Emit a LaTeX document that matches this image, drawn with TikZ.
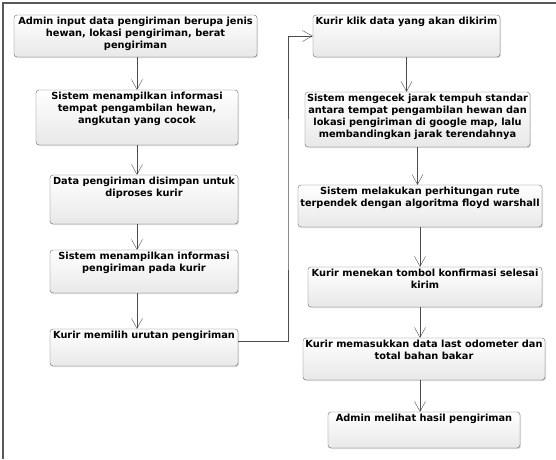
\documentclass[tikz,border=0pt]{standalone}
\usepackage{fontspec}
\setmainfont{DejaVu Sans}
\usetikzlibrary{arrows.meta,shadows}
\newcommand{\acttext}[3]{\parbox[c][\dimexpr#2-5pt][t]{\dimexpr#1-4pt}{\centering #3}}
\begin{document}
\begin{tikzpicture}[x=1pt,y=-1pt]
  \tikzstyle{act}=[draw=black!60, rounded corners=3pt, inner xsep=2pt, inner ysep=2.5pt, top color=white, bottom color=black!9,
    drop shadow={opacity=0.25, shadow xshift=1pt, shadow yshift=-1pt},
    font=\fontsize{9.8}{11.7}\selectfont\bfseries]
  \tikzstyle{flow}=[draw=black!70, -{Straight Barb[length=10pt, width=11pt]}]

  \useasboundingbox (0,0) rectangle (556,459);
  \draw[black!65, line width=2pt] (3,459) -- (3,3) -- (556,3);

  \node[act] (l1) at (135.5, 36)  {\acttext{243pt}{42pt}{Admin input data pengiriman berupa jenis\\hewan, lokasi pengiriman, berat\\pengiriman}};
  \node[act] (l2) at (137, 117.5) {\acttext{202pt}{55pt}{Sistem menampilkan informasi\\tempat pengambilan hewan,\\angkutan yang cocok}};
  \node[act] (l3) at (144, 199.5) {\acttext{188pt}{49pt}{Data pengiriman disimpan untuk\\diproses kurir}};
  \node[act] (l4) at (144, 271.5) {\acttext{188pt}{43pt}{Sistem menampilkan informasi\\pengiriman pada kurir}};
  \node[act] (l5) at (144, 347.5) {\acttext{188pt}{37pt}{Kurir memilih urutan pengiriman}};

  \node[act] (r1) at (406.5, 36)  {\acttext{187pt}{42pt}{Kurir klik data yang akan dikirim}};
  \node[act] (r2) at (417.5, 119.5) {\acttext{225pt}{55pt}{Sistem mengecek jarak tempuh standar\\antara tempat pengambilan hewan dan\\lokasi pengiriman di google map, lalu\\membandingkan jarak terendahnya}};
  \node[act] (r3) at (420, 206)   {\acttext{244pt}{42pt}{Sistem melakukan perhitungan rute\\terpendek dengan algoritma floyd warshall}};
  \node[act] (r4) at (425, 287)   {\acttext{234pt}{40pt}{Kurir menekan tombol konfirmasi selesai\\kirim}};
  \node[act] (r5) at (424, 359)   {\acttext{242pt}{42pt}{Kurir memasukkan data last odometer dan\\total bahan bakar}};
  \node[act] (r6) at (424, 430)   {\acttext{192pt}{36pt}{Admin melihat hasil pengiriman}};

  \draw[flow] (l2.north |- l1.south) -- (l2.north);
  \draw[flow] (l2.south) -- (l2.south |- l3.north);
  \draw[flow] (l2.south |- l3.south) -- (l2.south |- l4.north);
  \draw[flow] (l2.south |- l4.south) -- (l5.north -| l2.south);
  \draw[flow] ([yshift=6.5pt]l5.east) -| (288, 200) |- (r1.west);

  \draw[flow] (r1.south) -- (r1.south |- r2.north);
  \draw[flow] (r2.south) -- (r2.south |- r3.north);
  \draw[flow] (r3.south) -- (r3.south |- r4.north);
  \draw[flow] (r3.south |- r4.south) -- (r3.south |- r5.north);
  \draw[flow] (r3.south |- r5.south) -- (r3.south |- r6.north);

\end{tikzpicture}
\end{document}
